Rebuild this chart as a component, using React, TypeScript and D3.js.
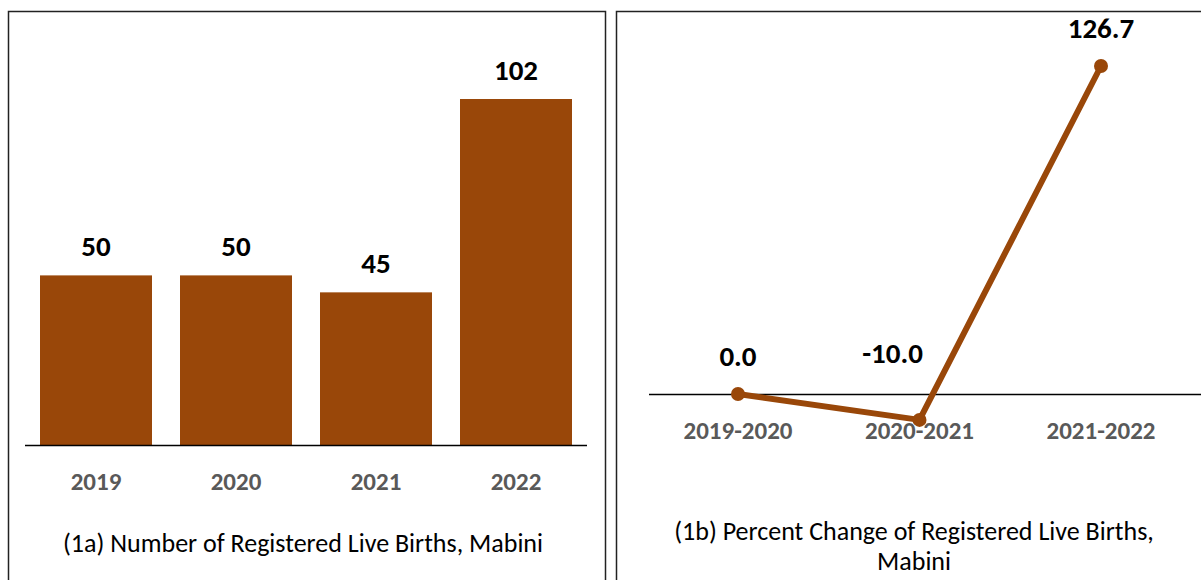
import React from "react";
import * as d3 from "d3";

const years = ["2019", "2020", "2021", "2022"];
const births = [50, 50, 45, 102];

const periods = ["2019-2020", "2020-2021", "2021-2022"];
const pctChange = [0.0, -10.0, 126.7];

const BROWN = "#994709";
const GRAY = "#595959";
const FONT = "Carlito, Lato, 'Open Sans', sans-serif";

export default function App() {
  // left: bar chart
  const xBar = d3.scaleBand<string>().domain(years).range([26, 586]).paddingInner(0.2).paddingOuter(0.1);
  const yBar = d3.scaleLinear().domain([0, 102]).range([445, 99]);

  // right: line chart
  const xLine = d3.scalePoint<string>().domain(periods).range([738, 1101]);
  const yLine = d3.scaleLinear().domain([0, 126.7]).range([394, 66]);
  const pts: [number, number][] = periods.map((p, i) => [xLine(p)!, yLine(pctChange[i])]);
  const line = d3.line();

  const labelDx = [0, -27, 0];

  return (
    <svg width={1201} height={580} style={{ position: "absolute", left: 0, top: 0, background: "#fff" }} fontFamily={FONT}>
      {/* panel frames */}
      <rect x={8.5} y={11.5} width={597} height={590} fill="none" stroke="#222" strokeWidth={1.5} />
      <rect x={616.5} y={11.5} width={600} height={590} fill="none" stroke="#222" strokeWidth={1.5} />

      {/* bars */}
      {years.map((yr, i) => (
        <g key={yr}>
          <rect x={xBar(yr)} y={yBar(births[i])} width={xBar.bandwidth()} height={yBar(0) - yBar(births[i])} fill={BROWN} />
          <text x={xBar(yr)! + xBar.bandwidth() / 2} y={yBar(births[i]) - 19} textAnchor="middle" fontSize={29} fontWeight="bold" fill="#000">
            {births[i]}
          </text>
          <text x={xBar(yr)! + xBar.bandwidth() / 2} y={490} textAnchor="middle" fontSize={25} fontWeight="bold" fill={GRAY}>
            {yr}
          </text>
        </g>
      ))}
      <line x1={25} x2={587} y1={445.5} y2={445.5} stroke="#000" strokeWidth={1.5} />
      <text x={303} y={552} textAnchor="middle" fontSize={26} fill="#000">
        (1a) Number of Registered Live Births, Mabini
      </text>

      {/* line chart */}
      <line x1={649} x2={1201} y1={394.5} y2={394.5} stroke="#000" strokeWidth={1.5} />
      {periods.map((p) => (
        <text key={p} x={xLine(p)} y={439} textAnchor="middle" fontSize={25} fontWeight="bold" fill={GRAY}>
          {p}
        </text>
      ))}
      <path d={line(pts) || ""} fill="none" stroke={BROWN} strokeWidth={6} strokeLinejoin="round" />
      {pts.map(([x, y], i) => (
        <circle key={i} cx={x} cy={y} r={7} fill={BROWN} />
      ))}
      {pts.map(([x, y], i) => (
        <text key={"l" + i} x={x + labelDx[i]} y={i === 1 ? 363 : y - 28} textAnchor="middle" fontSize={29} fontWeight="bold" fill="#000">
          {pctChange[i].toFixed(1)}
        </text>
      ))}
      <text x={914} y={540} textAnchor="middle" fontSize={26} fill="#000">
        (1b) Percent Change of Registered Live Births,
      </text>
      <text x={914} y={570} textAnchor="middle" fontSize={26} fill="#000">
        Mabini
      </text>
    </svg>
  );
}
